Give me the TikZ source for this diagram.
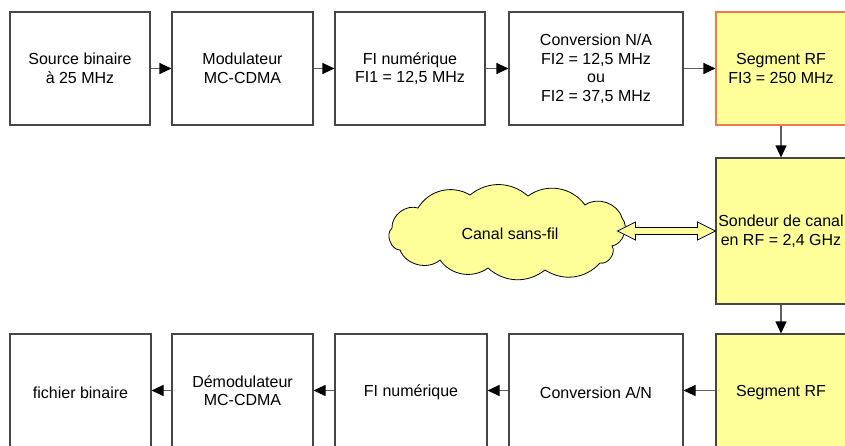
\documentclass[tikz,border=0pt]{standalone}
\usepackage{fontspec}
\setmainfont{Liberation Sans}
\usetikzlibrary{arrows.meta,calc}
\definecolor{boxline}{RGB}{70,70,70}
\definecolor{connline}{RGB}{95,95,95}
\definecolor{paleyellow}{RGB}{255,255,153}
\definecolor{orangeline}{RGB}{238,120,80}
\begin{document}
\begin{tikzpicture}[x=1pt,y=-1pt,
  box/.style={draw=boxline,line width=1.1pt,fill=white,align=center,
    minimum height=113pt,inner xsep=2pt,
    execute at begin node={\rule{0pt}{15.5pt}},
    font=\fontsize{16}{18.5}\selectfont},
  ybox/.style={box,fill=paleyellow},
  conn/.style={draw=connline,line width=1.1pt,
    -{Triangle[length=12pt,width=11pt,color=black]}},
  blockarrow/.style={draw=black,line width=0.8pt,fill=paleyellow,line join=miter},
  cloudline/.style={draw=black,line width=0.8pt,fill=paleyellow},
  puff/.style={bend left=#1}
]
\useasboundingbox (0,0) rectangle (845,445);
\clip (0,0) rectangle (845,445);
% top row
\node[box,minimum width=140pt] (b1) at (80,68.5) {Source binaire\\à 25 MHz};
\node[box,minimum width=141pt] (b2) at (242.5,68.5) {Modulateur\\MC-CDMA};
\node[box,minimum width=150pt] (b3) at (410,68.5) {FI numérique\\FI1 = 12,5 MHz};
\node[box,minimum width=174pt] (b4) at (596,68.5) {Conversion N/A\\FI2 = 12,5 MHz\\ou\\FI2 = 37,5 MHz};
\node[ybox,draw=orangeline,minimum width=130pt] (b5) at (781,68.5) {Segment RF\\FI3 = 250 MHz};
% middle
\node[ybox,minimum width=130pt,minimum height=146pt] (m) at (781,231) {Sondeur de canal\\en RF = 2,4 GHz};
% cloud outline
\draw[cloudline] (392,228) to[puff=55] (418,208) to[puff=45] (470,195)
  to[puff=40] (528,196) to[puff=45] (585,205) to[puff=55] (622,218)
  to[puff=60] (612,246) to[puff=70] (600,263) to[puff=40] (545,270)
  to[puff=40] (488,268) to[puff=45] (440,260) to[puff=55] (400,250)
  to[puff=70] cycle;
\node[font=\fontsize{16}{18.5}\selectfont] (cl) at (510,234) {Canal sans-fil};
% bottom row
\node[box,minimum width=141pt] (c1) at (80.5,390.5) {fichier binaire};
\node[box,minimum width=141pt] (c2) at (242.5,390.5) {Démodulateur\\MC-CDMA};
\node[box,minimum width=152pt] (c3) at (411,390.5) {FI numérique};
\node[box,minimum width=174pt] (c4) at (596,390.5) {Conversion A/N};
\node[ybox,minimum width=130pt] (c5) at (781,390.5) {Segment RF};
% connectors
\draw[conn] (b1) -- (b2);
\draw[conn] (b2) -- (b3);
\draw[conn] (b3) -- (b4);
\draw[conn] (b4) -- (b5);
\draw[conn] (b5) -- (m);
\draw[conn] (m) -- (c5);
\draw[conn] (c5) -- (c4);
\draw[conn] (c4) -- (c3);
\draw[conn] (c3) -- (c2);
\draw[conn] (c2) -- (c1);
% double block arrow between cloud and sounder
\coordinate (tipR) at (m.west);
\coordinate (tipL) at ($(m.west)+(-98,0)$);
\draw[blockarrow] (tipL) -- ++(18,-9) -- ++(0,5.5) -- ($(tipR)+(-18,-3.5)$)
  -- ++(0,-5.5) -- (tipR) -- ++(-18,9) -- ++(0,-5.5)
  -- ($(tipL)+(18,3.5)$) -- ++(0,5.5) -- cycle;
\end{tikzpicture}
\end{document}
